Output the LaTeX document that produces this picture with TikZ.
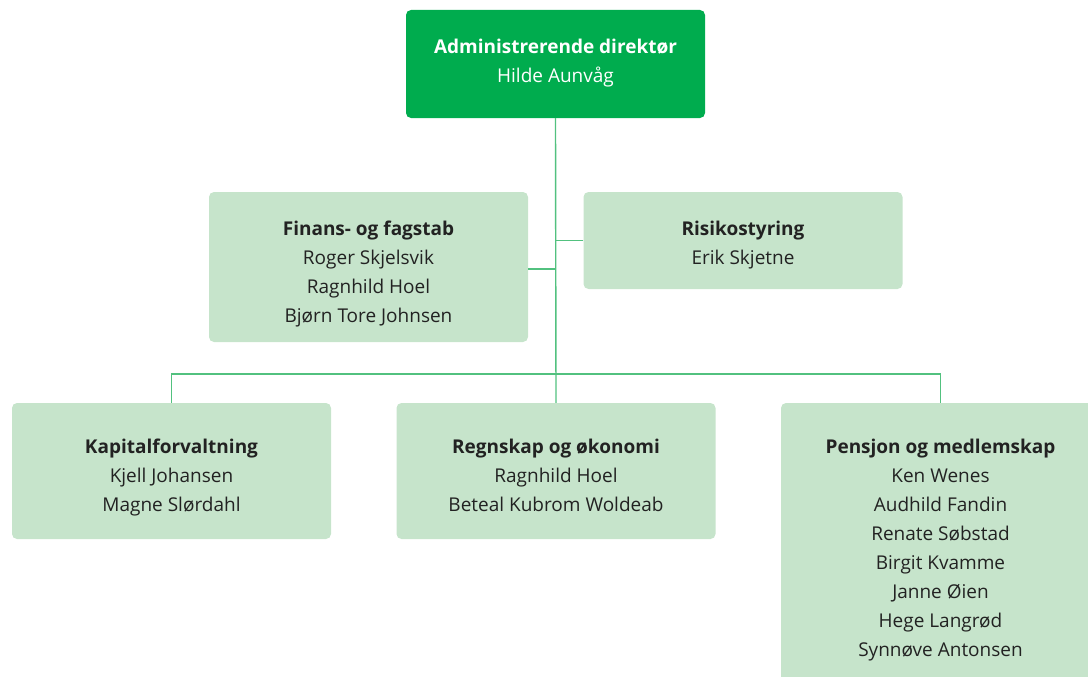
\documentclass[tikz,border=0pt]{standalone}
\usepackage{fontspec}
\setmainfont{Open Sans}
\definecolor{topgreen}{HTML}{00AC4E}
\definecolor{boxgreen}{HTML}{C6E4CB}
\definecolor{linegreen}{HTML}{52C17F}
\definecolor{txt}{HTML}{222222}
\begin{document}
\begin{tikzpicture}[x=1pt,y=1pt,
  box/.style={rectangle, rounded corners=5pt, fill=boxgreen, inner sep=0pt, minimum width=319pt},
  topbox/.style={box, fill=topgreen, minimum width=299pt},
  lbl/.style={align=center, text=txt, inner sep=0pt, font=\fontsize{19}{29}\selectfont},
  toplbl/.style={lbl, text=white},
  conn/.style={draw=linegreen, line width=1.4pt}]
\useasboundingbox (0,0) rectangle (1088,-677);
\clip (0,0) rectangle (1088,-677);
% boxes
\node[topbox, minimum height=108pt] (top) at (555.5,-64) {};
\node[box, minimum height=150pt] (fin) at (368.5,-267) {};
\node[box, minimum height=97pt] (ris) at (743,-240.5) {};
\node[box, minimum height=136pt] (kap) at (171.5,-471) {};
\node[box, minimum height=136pt] (reg) at (556,-471) {};
\node[box, minimum height=290pt] (pen) at (940.5,-548) {};
% texts
\node[toplbl] (topt) at (555.5,-62.5) {\strut\textbf{Administrerende direktør}\\Hilde Aunvåg\strut};
\node[lbl] (fint) at (368.5,-273) {\strut\textbf{Finans- og fagstab}\\Roger Skjelsvik\\Ragnhild Hoel\\Bjørn Tore Johnsen\strut};
\node[lbl] (rist) at (743,-244) {\strut\textbf{Risikostyring}\\Erik Skjetne\strut};
\node[lbl] (kapt) at (171.5,-476.5) {\strut\textbf{Kapitalforvaltning}\\Kjell Johansen\\Magne Slørdahl\strut};
\node[lbl] (regt) at (556,-476.5) {\strut\textbf{Regnskap og økonomi}\\Ragnhild Hoel\\Beteal Kubrom Woldeab\strut};
\node[lbl] (pent) at (940.5,-549) {\strut\textbf{Pensjon og medlemskap}\\Ken Wenes\\Audhild Fandin\\Renate Søbstad\\Birgit Kvamme\\Janne Øien\\Hege Langrød\\Synnøve Antonsen\strut};
% connectors
\coordinate (bus) at (556,-374);
\draw[conn] (top.south) -- (reg.north);
\draw[conn] ([yshift=-2pt]fin.east) -- ([yshift=-2pt]fin.east -| top.south);
\draw[conn] (ris.west) -- (ris.west -| top.south);
\draw[conn] (kap.north) |- (bus) -| (pen.north);
\end{tikzpicture}
\end{document}
